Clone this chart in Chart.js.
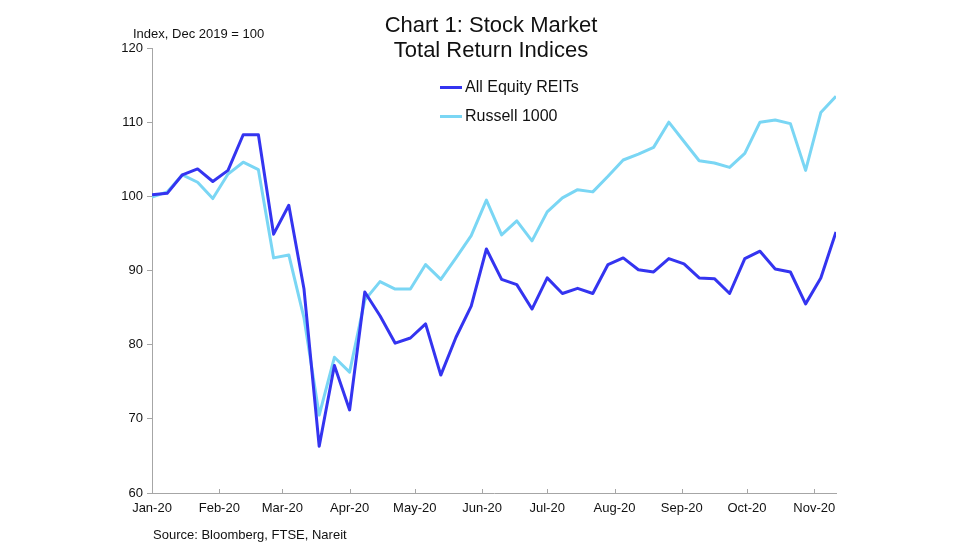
<!DOCTYPE html>
<html>
<head>
<meta charset="utf-8">
<script src="https://cdn.jsdelivr.net/npm/chart.js@4/dist/chart.umd.min.js"></script>
<style>
  html, body { margin: 0; padding: 0; background: #fff; }
  #wrap { position: relative; width: 980px; height: 551px; font-family: "Liberation Sans", Arial, sans-serif; color: #111; }
  #wrap canvas { position: absolute; left: 0; top: 0; }
  .txt { position: absolute; white-space: nowrap; }
  #title { left: 291px; width: 400px; top: 12px; text-align: center; font-size: 22px; line-height: 25px; }
  #unit { left: 133px; top: 26px; font-size: 13px; }
  #source { left: 153px; top: 527px; font-size: 13px; }
  .leg { position: absolute; left: 440px; font-size: 16px; display: flex; align-items: center; }
  .leg i { display: inline-block; width: 22px; height: 3px; margin-right: 3px; }
</style>
</head>
<body>
<div id="wrap">
  <canvas id="chart" width="980" height="551"></canvas>
  <div id="title" class="txt">Chart 1: Stock Market<br>Total Return Indices</div>
  <div id="unit" class="txt">Index, Dec 2019 = 100</div>
  <div class="leg" style="top:78px"><i style="background:#3434f0"></i>All Equity REITs</div>
  <div class="leg" style="top:107px"><i style="background:#7ad6f4"></i>Russell 1000</div>
  <div id="source" class="txt">Source: Bloomberg, FTSE, Nareit</div>
</div>
<script>
/* weekly total return indices, Dec 2019 = 100 */
var reits = [
  100.2, 100.4, 102.9, 103.7, 102.0, 103.5, 108.3, 108.3, 94.9, 98.8,
  87.5, 66.3, 77.2, 71.2, 87.1, 83.9, 80.2, 80.9, 82.8, 75.9,
  81.0, 85.2, 92.9, 88.8, 88.1, 84.8, 89.0, 86.9, 87.6, 86.9,
  90.8, 91.7, 90.1, 89.8, 91.6, 90.9, 89.0, 88.9, 86.9, 91.6,
  92.6, 90.2, 89.8, 85.5, 89.0, 95.2
];
var russell = [
  99.9, 100.6, 102.9, 101.9, 99.7, 103.0, 104.6, 103.6, 91.7, 92.1,
  83.6, 70.5, 78.3, 76.3, 86.0, 88.5, 87.5, 87.5, 90.8, 88.8,
  91.7, 94.7, 99.5, 94.8, 96.7, 94.0, 97.9, 99.8, 100.9, 100.6,
  102.7, 104.9, 105.7, 106.6, 110.0, 107.4, 104.8, 104.5, 103.9, 105.8,
  110.0, 110.3, 109.8, 103.5, 111.3, 113.5
];
// days since 1 Jan 2020 for each month label
var monthDays = [0, 31, 60, 91, 121, 152, 182, 213, 244, 274, 305];
var monthLabels = ['Jan-20', 'Feb-20', 'Mar-20', 'Apr-20', 'May-20', 'Jun-20',
                   'Jul-20', 'Aug-20', 'Sep-20', 'Oct-20', 'Nov-20'];
var yTicks = [60, 70, 80, 90, 100, 110, 120];

function weekly(values) {
  return values.map(function (v, i) { return { x: i * 7, y: v }; });
}

var axisGrey = '#a6a6a6';
var tickFont = { family: '"Liberation Sans", Arial, sans-serif', size: 13 };

// short inward tick marks on the date axis
var innerTicks = {
  id: 'innerTicks',
  afterDraw: function (c) {
    var x = c.scales.x, ctx = c.ctx, b = c.chartArea.bottom;
    ctx.save();
    ctx.strokeStyle = axisGrey;
    ctx.lineWidth = 1;
    monthDays.forEach(function (d, i) {
      if (i === 0) return;
      var px = Math.round(x.getPixelForValue(d)) + 0.5;
      ctx.beginPath();
      ctx.moveTo(px, b);
      ctx.lineTo(px, b - 4);
      ctx.stroke();
    });
    ctx.restore();
  }
};

new Chart(document.getElementById('chart').getContext('2d'), {
  type: 'line',
  data: {
    datasets: [
      { label: 'All Equity REITs', data: weekly(reits), borderColor: '#3434f0',
        borderWidth: 3, borderJoinStyle: 'round', pointRadius: 0, tension: 0 },
      { label: 'Russell 1000', data: weekly(russell), borderColor: '#7ad6f4',
        borderWidth: 3, borderJoinStyle: 'round', pointRadius: 0, tension: 0 }
    ]
  },
  options: {
    responsive: false, animation: false, devicePixelRatio: 1,
    layout: { padding: { left: 100, right: 144, top: 48, bottom: 28 } },
    plugins: { legend: { display: false }, tooltip: { enabled: false } },
    scales: {
      x: {
        type: 'linear', min: 0, max: (reits.length - 1) * 7,
        afterBuildTicks: function (s) { s.ticks = monthDays.map(function (d) { return { value: d }; }); },
        afterFit: function (s) { s.height = 30; },
        ticks: { autoSkip: false, maxRotation: 0, padding: 8, color: '#111', font: tickFont,
                 callback: function (v, i) { return monthLabels[i]; } },
        grid: { drawOnChartArea: false, drawTicks: false },
        border: { color: axisGrey }
      },
      y: {
        min: 60, max: 120,
        afterBuildTicks: function (s) { s.ticks = yTicks.map(function (v) { return { value: v }; }); },
        afterFit: function (s) { s.width = 52; },
        ticks: { padding: 4, color: '#111', font: tickFont },
        grid: { drawOnChartArea: false, tickLength: 5, color: axisGrey },
        border: { color: axisGrey }
      }
    }
  },
  plugins: [innerTicks]
});
</script>
</body>
</html>
